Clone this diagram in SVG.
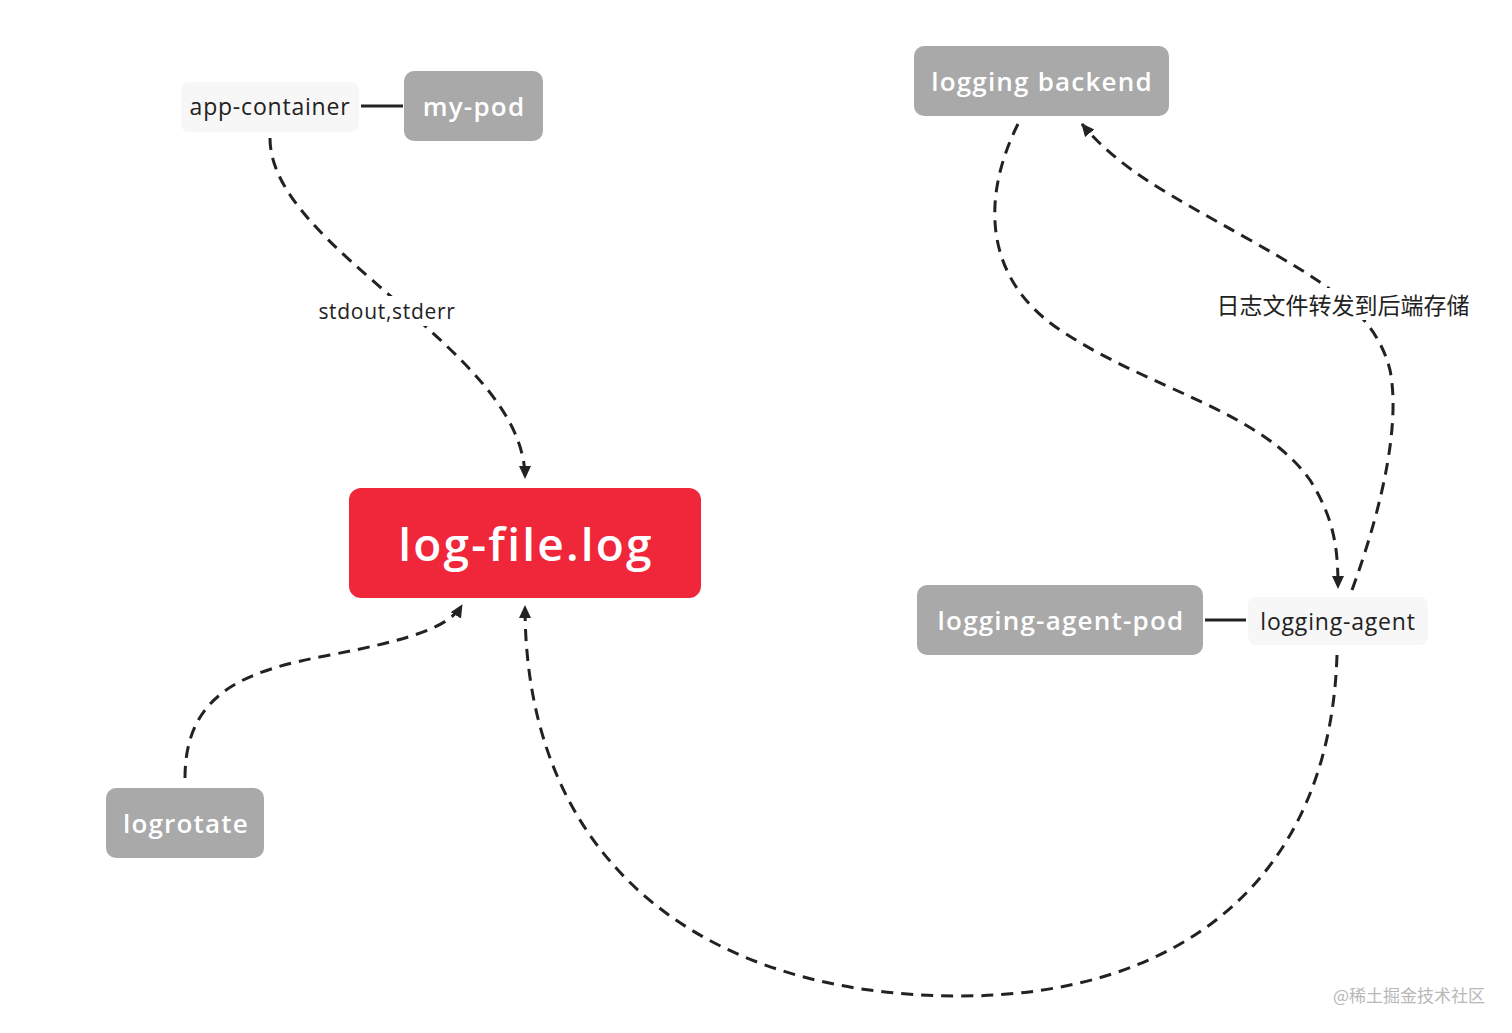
<svg xmlns="http://www.w3.org/2000/svg" width="1512" height="1033" viewBox="0 0 1512 1033">
<defs>
<marker id="arr" markerUnits="userSpaceOnUse" markerWidth="14" markerHeight="14" viewBox="0 0 14 14" refX="12" refY="7" orient="auto">
<path d="M0,1 L13,7 L0,13 Z" fill="#222"/>
</marker>
<style>
.grey{fill:#a9a9a9}
.light{fill:#f7f7f7}
.wt{font-family:"Open Sans",Lato,sans-serif;font-weight:600;fill:#fff;font-size:26px;letter-spacing:1.2px;text-anchor:middle;dominant-baseline:central;font-variant-ligatures:none}
.dt{font-family:"Open Sans",Lato,sans-serif;fill:#222;font-size:23px;letter-spacing:0.8px;text-anchor:middle;dominant-baseline:central;font-variant-ligatures:none}
.dash{fill:none;stroke:#222;stroke-width:3;stroke-dasharray:12 8}
.solid{fill:none;stroke:#222;stroke-width:3}
</style>
</defs>
<rect width="1512" height="1033" fill="#fff"/>
<g id="connectors">
<line class="solid" x1="361" y1="106" x2="403" y2="106"/>
<line class="solid" x1="1205" y1="620" x2="1246" y2="620"/>
<path class="dash" d="M270,138 C270,250 525,350 525,478" marker-end="url(#arr)"/>
<path class="dash" d="M185,778 C185,690 250,670 330,655 C420,638 450,625 462,605" marker-end="url(#arr)"/>
<path class="dash" d="M1337,655 C1330,880 1180,996 960,996 C700,996 525,860 525,606" marker-end="url(#arr)"/>
<path class="dash" d="M1018,124 C980,200 985,280 1060,330 C1150,390 1260,410 1310,480 C1335,520 1338,550 1338,588" marker-end="url(#arr)"/>
<path class="dash" d="M1352,590 C1385,500 1400,420 1390,370 C1375,310 1320,280 1250,240 C1170,195 1120,170 1082,124" marker-end="url(#arr)"/>
<rect x="314" y="296" width="144" height="30" fill="#fff"/>
<text class="dt" x="387" y="311" style="font-size:21px;letter-spacing:0.7px">stdout,stderr</text>
<rect x="1210" y="288" width="268" height="32" fill="#fff"/>
<text class="dt" x="1343" y="304" style="font-family:'Noto Sans CJK SC',sans-serif;font-size:23px;letter-spacing:0">日志文件转发到后端存储</text>
</g>
<g id="app-container">
<rect class="light" x="181" y="82" width="178" height="50" rx="8"/>
<text class="dt" x="270" y="106">app-container</text>
</g>
<g id="my-pod">
<rect class="grey" x="404" y="71" width="139" height="70" rx="10"/>
<text class="wt" x="474" y="106">my-pod</text>
</g>
<g id="logging-backend">
<rect class="grey" x="914" y="46" width="255" height="70" rx="10"/>
<text class="wt" x="1042" y="81">logging backend</text>
</g>
<g id="log-file">
<rect x="349" y="488" width="352" height="110" rx="12" fill="#f0263a"/>
<text class="wt" x="526" y="543" style="font-size:46px;letter-spacing:2.2px">log-file.log</text>
</g>
<g id="logrotate">
<rect class="grey" x="106" y="788" width="158" height="70" rx="10"/>
<text class="wt" x="186" y="823">logrotate</text>
</g>
<g id="logging-agent-pod">
<rect class="grey" x="917" y="585" width="286" height="70" rx="10"/>
<text class="wt" x="1061" y="620">logging-agent-pod</text>
</g>
<g id="logging-agent">
<rect class="light" x="1248" y="597" width="180" height="48" rx="8"/>
<text class="dt" x="1338" y="621">logging-agent</text>
</g>
<text x="1485" y="1002" style="font-family:'Noto Sans CJK SC',sans-serif;font-size:17px;fill:#b8b8b8;text-anchor:end">@稀土掘金技术社区</text>
</svg>
